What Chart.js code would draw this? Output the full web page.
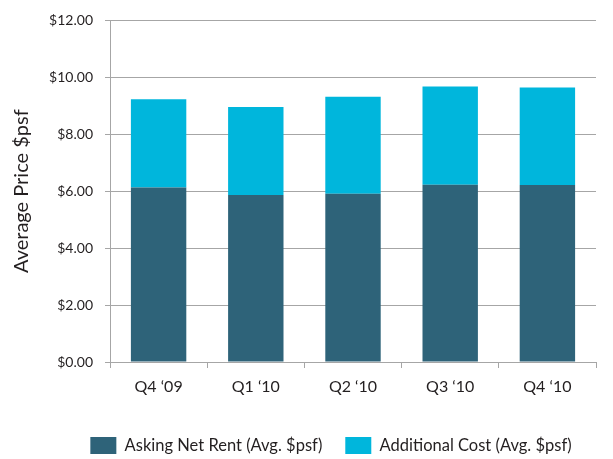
<!DOCTYPE html>
<html>
<head>
<meta charset="utf-8">
<script src="https://cdn.jsdelivr.net/npm/chart.js@4.4.1/dist/chart.umd.min.js"></script>
<style>
  html, body { margin: 0; padding: 0; background: #fff; }
  #wrap { width: 613px; height: 459px; position: relative; }
</style>
</head>
<body>
<div id="wrap"><canvas id="chart"></canvas></div>
<script>
const categories = ["Q4 \u201809", "Q1 \u201810", "Q2 \u201810", "Q3 \u201810", "Q4 \u201810"];
const netRent = [6.13, 5.87, 5.91, 6.23, 6.22];
const additionalCost = [3.10, 3.09, 3.41, 3.45, 3.42];
const seriesNames = ["Asking Net Rent (Avg. $psf)", "Additional Cost (Avg. $psf)"];
const yTitle = "Average Price $psf";

const gridColor = "#a6a6a6";

// nudge legend right and down, like the original
const legendShift = {
  id: "legendShift",
  afterLayout(chart) {
    const lg = chart.legend;
    lg.left += 28;
    lg.right += 28;
    lg.top += 5;
    lg.bottom += 5;
  }
};

new Chart(document.getElementById("chart"), {
  type: "bar",
  data: {
    labels: categories,
    datasets: [
      {
        label: seriesNames[0],
        data: netRent,
        backgroundColor: "#2e6379",
        categoryPercentage: 1,
        barPercentage: 0.57
      },
      {
        label: seriesNames[1],
        data: additionalCost,
        backgroundColor: "#00b6dc",
        categoryPercentage: 1,
        barPercentage: 0.57
      }
    ]
  },
  options: {
    responsive: true,
    maintainAspectRatio: false,
    animation: false,
    layout: { padding: { top: 6, right: 17, bottom: 0, left: 10 } },
    plugins: {
      tooltip: { enabled: false },
      legend: {
        position: "bottom",
        labels: {
          boxWidth: 26,
          boxHeight: 17,
          padding: 23,
          color: "#231f20",
          font: { family: "Lato", size: 16.5 }
        }
      }
    },
    scales: {
      x: {
        stacked: true,
        grid: { display: true, drawOnChartArea: false, color: gridColor, tickLength: 6 },
        border: { color: gridColor },
        ticks: { color: "#231f20", padding: 9, font: { family: "Lato", size: 16 } },
        afterFit(scale) { scale.height = 47; }
      },
      y: {
        stacked: true,
        min: 0,
        max: 12,
        grid: { color: gridColor, tickLength: 5 },
        border: { color: gridColor },
        ticks: {
          stepSize: 2,
          color: "#231f20",
          padding: 12,
          font: { family: "Lato", size: 14 },
          callback: v => "$" + v.toFixed(2)
        },
        title: {
          display: true,
          text: yTitle,
          color: "#231f20",
          padding: 0,
          font: { family: "Lato", size: 20 }
        },
        afterFit(scale) { scale.width = 100; }
      }
    }
  },
  plugins: [legendShift]
});
</script>
</body>
</html>
